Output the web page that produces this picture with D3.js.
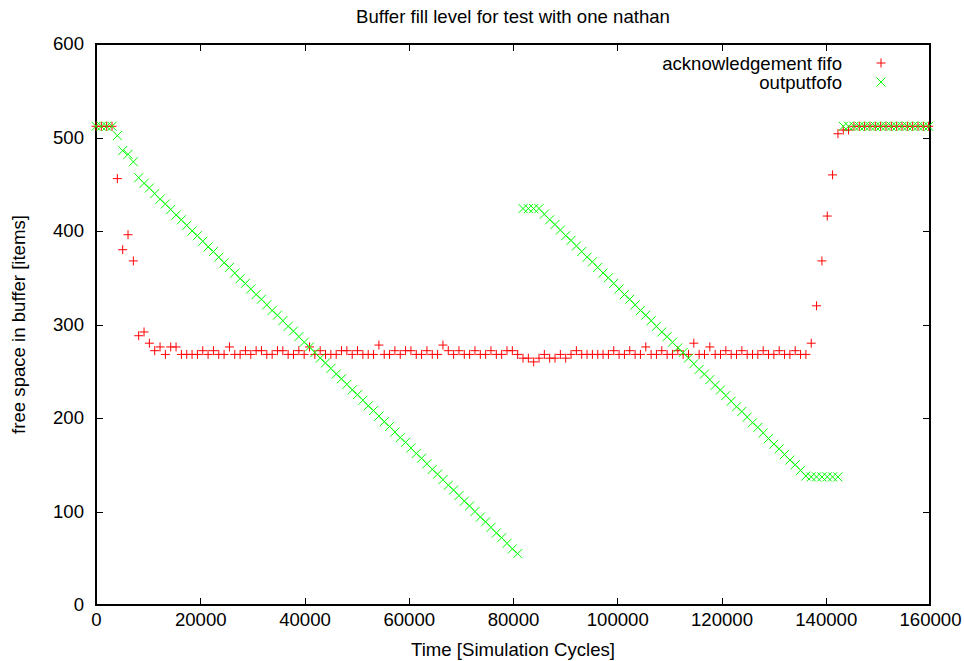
<!DOCTYPE html>
<html>
<head>
<meta charset="utf-8">
<script src="https://cdn.jsdelivr.net/npm/d3@7"></script>
<style>
  body { margin: 0; background: #fff; }
  text { font-family: "Liberation Sans", Arial, sans-serif; fill: #000; }
</style>
</head>
<body>
<div id="chart"></div>
<script>
// sample times (simulation cycles)
const times = [0,1024,2048,3072,4096,5120,6144,7168,8192,9216,10240,11264,12288,13312,14336,15360,16384,17408,18432,19456,20480,21504,22528,23552,24576,25600,26624,27648,28672,29696,30720,31744,32768,33792,34816,35840,36864,37888,38912,39936,40960,41984,43008,44032,45056,46080,47104,48128,49152,50176,51200,52224,53248,54272,55296,56320,57344,58368,59392,60416,61440,62464,63488,64512,65536,66560,67584,68608,69632,70656,71680,72704,73728,74752,75776,76800,77824,78848,79872,80896,81920,82944,83968,84992,86016,87040,88064,89088,90112,91136,92160,93184,94208,95232,96256,97280,98304,99328,100352,101376,102400,103424,104448,105472,106496,107520,108544,109568,110592,111616,112640,113664,114688,115712,116736,117760,118784,119808,120832,121856,122880,123904,124928,125952,126976,128000,129024,130048,131072,132096,133120,134144,135168,136192,137216,138240,139264,140288,141312,142336,143360,144384,145408,146432,147456,148480,149504,150528,151552,152576,153600,154624,155648,156672,157696,158720,159744];

const ackFifo = [512,512,512,512,
  456,380,396,368,288,292,280,
  272,276,268,276,276,
  268,268,268,268,272,268,272,268,268,276,268,268,272,268,272,272,268,268,272,
  272,268,268,272,268,276,268,272,268,268,
  268,272,272,268,272,268,268,268,278,268,
  268,272,268,272,272,268,268,272,268,268,
  278,272,268,272,268,268,272,268,268,272,
  268,268,272,272,268,
  264,264,260,264,268,264,264,268,264,268,
  272,268,268,268,268,268,268,272,268,268,
  272,268,268,276,268,268,272,268,268,272,
  268,268,280,268,268,276,268,268,272,268,
  268,272,268,268,268,272,268,268,272,268,
  268,272,268,268,
  280,320,368,416,460,504,508,508,
  512,512,512,512,512,512,512,512,512,512,512,512,512,512,512];

const outputFifo = [512,512,512,512,
  502,486,482,474,
  457,451,446,440,434,429,423,417,412,406,
  400,395,389,383,378,372,366,361,355,349,
  344,338,332,327,321,315,310,304,298,293,
  287,281,276,270,264,259,253,247,242,236,
  230,225,219,213,208,202,196,191,185,179,
  174,168,162,157,151,145,140,134,128,123,
  117,111,106,100,94,89,83,77,72,66,
  60,55,
  424,424,424,424,
  418,412,407,401,395,390,384,378,372,367,
  361,355,350,344,338,332,327,321,315,310,
  304,298,292,287,281,275,270,264,258,252,
  247,241,235,230,224,218,212,207,201,195,
  190,184,178,172,167,161,155,150,144,138,
  137,137,137,137,137,137,
  512,512,512,512,512,512,512,512,512,512,512,512,512,512,512,512,512];

const xTicks = [0,20000,40000,60000,80000,100000,120000,140000,160000];
const yTicks = [0,100,200,300,400,500,600];

const series = [
  { name: "acknowledgement fifo", values: ackFifo, color: "#ff0000", shape: "plus" },
  { name: "outputfofo", values: outputFifo, color: "#00ff00", shape: "cross" }
];

const W = 964, H = 661;
const margin = { top: 44, right: 34, bottom: 56, left: 96 };
const width = W - margin.left - margin.right;
const height = H - margin.top - margin.bottom;
const fontSize = "18.6px";

const svg = d3.select("#chart").append("svg")
  .attr("width", W)
  .attr("height", H);

const x = d3.scaleLinear().domain([0, 160000]).range([margin.left, margin.left + width]);
const y = d3.scaleLinear().domain([0, 600]).range([margin.top + height, margin.top]);

const tickLen = 7;
const fmt = d3.format("d");

// axes (gnuplot-style: ticks inward, mirrored)
function styleAxis(g) {
  g.select(".domain").remove();
  g.selectAll(".tick line").attr("stroke", "#000").attr("stroke-width", 1).attr("shape-rendering", "crispEdges");
  g.selectAll(".tick text").style("font-size", fontSize).style("font-family", "'Liberation Sans', Arial, sans-serif");
}

svg.append("g")
  .attr("transform", `translate(0,${margin.top + height})`)
  .call(d3.axisBottom(x).tickValues(xTicks).tickFormat(fmt).tickSizeInner(-tickLen).tickPadding(8))
  .call(styleAxis);

svg.append("g")
  .attr("transform", `translate(0,${margin.top})`)
  .call(d3.axisTop(x).tickValues(xTicks).tickFormat("").tickSizeInner(-tickLen))
  .call(styleAxis);

svg.append("g")
  .attr("transform", `translate(${margin.left},0)`)
  .call(d3.axisLeft(y).tickValues(yTicks).tickFormat(fmt).tickSizeInner(-tickLen).tickPadding(12))
  .call(styleAxis);

svg.append("g")
  .attr("transform", `translate(${margin.left + width},0)`)
  .call(d3.axisRight(y).tickValues(yTicks).tickFormat("").tickSizeInner(-tickLen))
  .call(styleAxis);

// border
svg.append("rect")
  .attr("x", margin.left)
  .attr("y", margin.top)
  .attr("width", width)
  .attr("height", height)
  .attr("fill", "none")
  .attr("stroke", "#000")
  .attr("stroke-width", 1.3)
  .attr("shape-rendering", "crispEdges");

// markers
const s = 4.5;
const shapes = {
  plus: `M${-s},0H${s}M0,${-s}V${s}`,
  cross: `M${-s},${-s}L${s},${s}M${-s},${s}L${s},${-s}`
};

series.forEach(ser => {
  svg.append("g")
    .selectAll("path")
    .data(ser.values.map((v, i) => ({ t: times[i], v: v })))
    .enter()
    .append("path")
    .attr("transform", d => `translate(${x(d.t)},${y(d.v)})`)
    .attr("d", shapes[ser.shape])
    .attr("fill", "none")
    .attr("stroke", ser.color)
    .attr("stroke-width", 1);
});

// legend
series.forEach((ser, i) => {
  const ly = 63 + i * 19;
  svg.append("text")
    .attr("x", 842)
    .attr("y", ly)
    .attr("dy", "0.35em")
    .attr("text-anchor", "end")
    .style("font-size", fontSize)
    .text(ser.name);
  svg.append("path")
    .attr("transform", `translate(881,${ly})`)
    .attr("d", shapes[ser.shape])
    .attr("fill", "none")
    .attr("stroke", ser.color)
    .attr("stroke-width", 1);
});

// title
svg.append("text")
  .attr("x", 513)
  .attr("y", 23)
  .attr("text-anchor", "middle")
  .style("font-size", fontSize)
  .text("Buffer fill level for test with one nathan");

// x label
svg.append("text")
  .attr("x", margin.left + width / 2)
  .attr("y", 656)
  .attr("text-anchor", "middle")
  .style("font-size", fontSize)
  .text("Time [Simulation Cycles]");

// y label
svg.append("text")
  .attr("transform", `translate(25,${margin.top + height / 2}) rotate(-90)`)
  .attr("text-anchor", "middle")
  .style("font-size", fontSize)
  .text("free space in buffer [items]");
</script>
</body>
</html>
